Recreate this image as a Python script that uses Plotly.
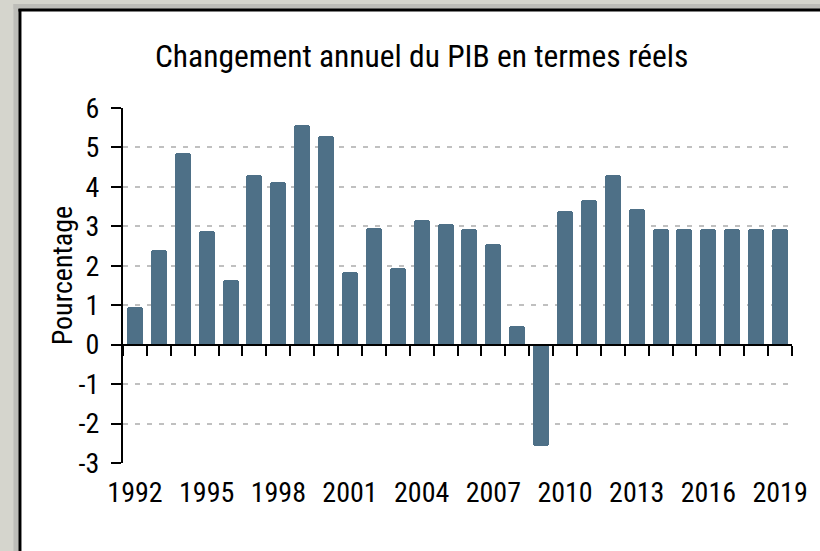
import plotly.graph_objects as go

years = list(range(1992, 2020))
growth = [0.95, 2.4, 4.85, 2.87, 1.65, 4.3, 4.13, 5.58, 5.28, 1.85,
          2.97, 1.95, 3.17, 3.07, 2.92, 2.56, 0.48, -2.56, 3.38, 3.68,
          4.29, 3.43, 2.92, 2.92, 2.92, 2.92, 2.92, 2.92]
label_years = list(range(1992, 2020, 3))
y_ticks = [-3, -2, -1, 0, 1, 2, 3, 4, 5, 6]
y_tick_text = ["-3", "-2", "-1", "0", "1", "2", "3", "4", "5", "6"]

title_text = "Changement annuel du PIB en termes réels"
y_title = "Pourcentage"

FONT = "Liberation Sans Narrow, Arial Narrow, Roboto Condensed, Liberation Sans, sans-serif"
BAR = "#4e7087"
FRAME = "#d5d5cd"
FRAME_EDGE = "#bdbdb8"

W, H = 820, 551
L, R, T, B = 123, 25, 108, 88

fig = go.Figure()
fig.add_trace(go.Bar(x=years, y=growth, marker=dict(color=BAR, cornerradius=3,
                                                    line=dict(width=0)),
                     width=0.67, hoverinfo="x+y", showlegend=False))
# helper trace to activate the zero-line axis
fig.add_trace(go.Scatter(x=years, y=growth, xaxis="x2", mode="markers",
                         marker=dict(opacity=0), hoverinfo="skip", showlegend=False))

ymin, ymax = y_ticks[0], y_ticks[-1]
zero_pos = (0 - ymin) / (ymax - ymin)
boundaries = [y - 0.5 for y in years] + [years[-1] + 0.5]

PW, PH = W - L - R, H - T - B
px_x = lambda v: (v - L) / PW
px_y = lambda v: (H - B - v) / PH

fig.update_layout(
    width=W, height=H,
    margin=dict(l=L, r=R, t=T, b=B),
    paper_bgcolor="white",
    plot_bgcolor="white",
    font=dict(family=FONT, color="black", size=28),
    showlegend=False,
    bargap=0,
    xaxis=dict(range=[years[0] - 0.5, years[-1] + 0.5], tickvals=label_years,
               ticktext=[str(v) for v in label_years], showline=False, showgrid=False,
               zeroline=False, ticks="", ticklabelstandoff=10,
               tickfont=dict(size=28, family=FONT)),
    xaxis2=dict(overlaying="x", anchor="free", position=zero_pos, side="bottom",
                range=[years[0] - 0.5, years[-1] + 0.5], tickvals=boundaries,
                showticklabels=False, ticks="outside", ticklen=10, tickwidth=2,
                tickcolor="black", showline=True, linecolor="black", linewidth=2,
                showgrid=False, zeroline=False),
    yaxis=dict(range=[ymin, ymax], tickvals=y_ticks, ticktext=y_tick_text, showgrid=True,
               gridcolor="#c0c0c0", griddash="5px,7px", gridwidth=2,
               zeroline=False, showline=True, linecolor="black", linewidth=2,
               ticks="outside", ticklen=10, tickwidth=2, tickcolor="black",
               ticklabelstandoff=6, tickfont=dict(size=28, family=FONT)),
    shapes=[
        dict(type="rect", xref="paper", yref="paper",
             x0=px_x(-5), x1=px_x(18), y0=px_y(H + 5), y1=px_y(-5),
             fillcolor=FRAME, line=dict(width=0), layer="below"),
        dict(type="rect", xref="paper", yref="paper",
             x0=px_x(-5), x1=px_x(W + 5), y0=px_y(9), y1=px_y(-5),
             fillcolor=FRAME, line=dict(width=0), layer="below"),
        dict(type="rect", xref="paper", yref="paper",
             x0=px_x(13), x1=px_x(18), y0=px_y(H + 5), y1=px_y(4),
             fillcolor=FRAME_EDGE, line=dict(width=0), layer="below"),
        dict(type="rect", xref="paper", yref="paper",
             x0=px_x(13), x1=px_x(W + 5), y0=px_y(9), y1=px_y(4),
             fillcolor=FRAME_EDGE, line=dict(width=0), layer="below"),
        dict(type="line", xref="paper", yref="paper",
             x0=px_x(18), x1=px_x(W + 5), y0=px_y(10), y1=px_y(10),
             line=dict(color="black", width=3), layer="below"),
        dict(type="line", xref="paper", yref="paper",
             x0=px_x(19.5), x1=px_x(19.5), y0=px_y(9), y1=px_y(H + 5),
             line=dict(color="black", width=3), layer="below"),
    ],
    annotations=[
        dict(text=title_text, xref="paper", yref="paper", x=px_x(423),
             y=px_y(57), xanchor="center", yanchor="middle",
             showarrow=False, font=dict(size=31.5, family=FONT)),
        dict(text=y_title, xref="paper", yref="paper", x=px_x(62),
             y=px_y(276), xanchor="center", yanchor="middle",
             textangle=-90, showarrow=False, font=dict(size=28, family=FONT)),
    ],
)

fig.write_html("out.html", config={"displayModeBar": False},
               post_script="document.body.style.margin='0';document.body.style.overflow='hidden';")
